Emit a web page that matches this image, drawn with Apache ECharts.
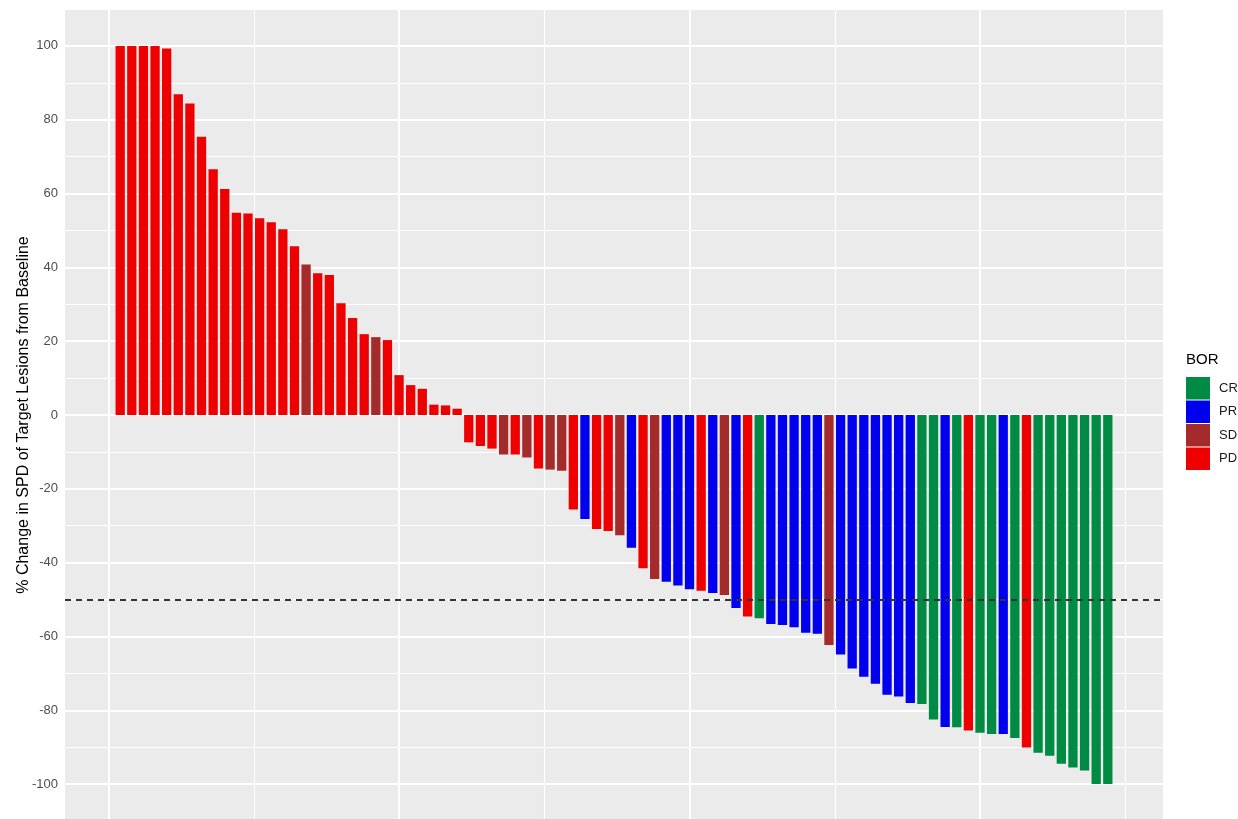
<!DOCTYPE html>
<html>
<head>
    <meta charset="utf-8">
    <title>Waterfall BOR</title>
    <script src="https://cdn.jsdelivr.net/npm/echarts@6/dist/echarts.min.js"></script>
</head>
<body style="margin:0;background:#fff;">
    <div id="main" style="width:1238px;height:819px;"></div>
    <script type="text/javascript">

// % change per patient, sorted as in the plot
var values = [
  100, 100, 100, 100, 99.3, 86.9, 84.4, 75.4, 66.6, 61.2,
  54.8, 54.6, 53.3, 52.2, 50.3, 45.7, 40.8, 38.4, 37.9, 30.3,
  26.3, 21.9, 21.1, 20.3, 10.8, 8.1, 7.1, 2.8, 2.6, 1.7,
  -7.4, -8.4, -9.1, -10.7, -10.7, -11.5, -14.5, -14.8, -15.1, -25.6,
  -28.2, -30.9, -31.4, -32.6, -36.0, -41.5, -44.4, -45.2, -46.2, -47.2,
  -47.6, -48.2, -48.8, -52.3, -54.6, -55.1, -56.6, -56.9, -57.5, -59.0,
  -59.3, -62.3, -64.9, -68.7, -70.9, -72.8, -75.8, -76.3, -78.0, -78.3,
  -82.5, -84.5, -84.6, -85.5, -86.1, -86.4, -86.4, -87.5, -90.1, -91.5,
  -92.3, -94.5, -95.5, -96.3, -100, -100
];

// best overall response for each bar
var bor = [
  'PD','PD','PD','PD','PD','PD','PD','PD','PD','PD',
  'PD','PD','PD','PD','PD','PD','SD','PD','PD','PD',
  'PD','PD','SD','PD','PD','PD','PD','PD','PD','PD',
  'PD','PD','PD','SD','PD','SD','PD','SD','SD','PD',
  'PR','PD','PD','SD','PR','PD','SD','PR','PR','PR',
  'PD','PR','SD','PR','PD','CR','PR','PR','PR','PR',
  'PR','SD','PR','PR','PR','PR','PR','PR','PR','CR',
  'CR','PR','CR','PD','CR','CR','PR','CR','PD','CR',
  'CR','CR','CR','CR','CR','CR'
];

var groups = ['CR', 'PR', 'SD', 'PD'];
var groupColors = {CR: '#008B45', PR: '#0000EE', SD: '#A52A2A', PD: '#EE0000'};

var yTicks = [-100, -80, -60, -40, -20, 0, 20, 40, 60, 80, 100];
var xMajor = [0, 25, 50, 75];
var xMinor = [12.5, 37.5, 62.5, 87.5];
var cutoff = -50;

var myChart = echarts.init(document.getElementById('main'));

var barSeries = groups.map(function (g) {
    var pts = [];
    values.forEach(function (v, i) {
        if (bor[i] === g) pts.push([i + 1, v]);
    });
    return {
        name: g,
        type: 'bar',
        data: pts,
        barWidth: '80%',
        barGap: '-100%',
        itemStyle: {color: groupColors[g]},
        z: 2
    };
});

// gridlines drawn under the bars
var gridLines = [];
yTicks.forEach(function (v) {
    gridLines.push({yAxis: v, lineStyle: {width: 2}});
});
xMajor.forEach(function (v) {
    gridLines.push({xAxis: v, lineStyle: {width: 2}});
});
xMinor.forEach(function (v) {
    gridLines.push({xAxis: v, lineStyle: {width: 1.1}});
});

var option = {
    animation: false,
    textStyle: {fontFamily: 'Liberation Sans, Arial, sans-serif'},
    title: {
        text: 'BOR',
        left: 1186,
        top: 352,
        padding: 0,
        textStyle: {fontSize: 15, fontWeight: 'normal', color: '#000'}
    },
    legend: {
        data: groups,
        orient: 'vertical',
        left: 1186,
        top: 377,
        padding: 0,
        icon: 'rect',
        itemWidth: 24,
        itemHeight: 22.5,
        itemGap: 1,
        textStyle: {fontSize: 13, color: '#1a1a1a', padding: [0, 0, 0, 4]}
    },
    grid: {
        left: 65,
        right: 75,
        top: 9,
        height: 812,
        outerBoundsMode: 'none',
        show: true,
        backgroundColor: '#EBEBEB',
        borderWidth: 0
    },
    xAxis: {
        type: 'value',
        min: -3.75,
        max: 90.75,
        axisLine: {show: false},
        axisTick: {show: false},
        axisLabel: {show: false},
        splitLine: {show: false}
    },
    yAxis: {
        type: 'value',
        min: -110,
        max: 110,
        interval: 10,
        name: '% Change in SPD of Target Lesions from Baseline',
        nameLocation: 'middle',
        nameGap: 33,
        nameMoveOverlap: false,
        nameTextStyle: {fontSize: 16, color: '#000'},
        axisLine: {show: false},
        axisTick: {show: false},
        axisLabel: {
            fontSize: 13,
            color: '#4D4D4D',
            margin: 7,
            formatter: function (v) {
                return yTicks.indexOf(v) >= 0 ? String(v) : '';
            }
        },
        splitLine: {lineStyle: {color: '#FFFFFF', width: 1.1}}
    },
    series: [{
        name: 'grid',
        type: 'line',
        data: [],
        silent: true,
        z: 1,
        markLine: {
            silent: true,
            z: 1,
            symbol: ['none', 'none'],
            label: {show: false},
            lineStyle: {color: '#FFFFFF', type: 'solid'},
            data: gridLines
        }
    }].concat(barSeries).concat([{
        name: 'cutoff',
        type: 'line',
        data: [],
        silent: true,
        z: 5,
        markLine: {
            silent: true,
            z: 5,
            symbol: ['none', 'none'],
            label: {show: false},
            lineStyle: {color: '#333333', type: [6, 5], width: 2},
            data: [{yAxis: cutoff}]
        }
    }])
};

myChart.setOption(option);
    </script>
</body>
</html>
